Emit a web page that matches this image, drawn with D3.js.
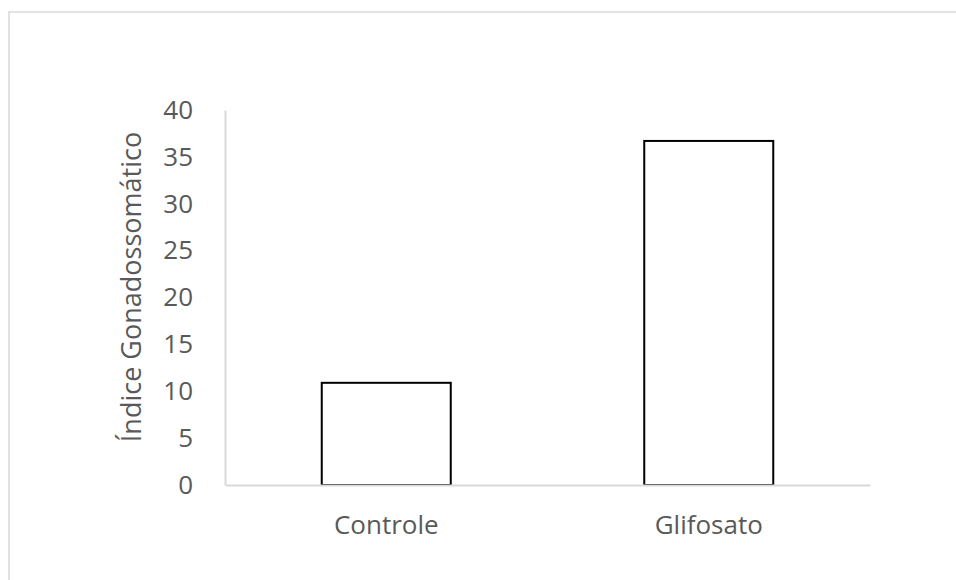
<!DOCTYPE html>
<html>
<head>
<meta charset="utf-8">
<script src="https://cdn.jsdelivr.net/npm/d3@7"></script>
<style>
  html, body { margin: 0; padding: 0; background: #fff; }
  svg { display: block; }
  text { font-family: "Open Sans", sans-serif; fill: #595959; }
</style>
</head>
<body>
<svg id="chart" width="956" height="580"></svg>
<script>
// Gonadosomatic index by treatment group
const categories = ["Controle", "Glifosato"];
const values = [10.9, 36.7];
const yTicks = [0, 5, 10, 15, 20, 25, 30, 35, 40];
const yTitle = "Índice Gonadossomático";

const svg = d3.select("#chart");

// Chart area frame
svg.append("rect")
  .attr("x", 9).attr("y", 12)
  .attr("width", 1000).attr("height", 700)
  .attr("fill", "#fff")
  .attr("stroke", "#d9d9d9")
  .attr("stroke-width", 1.5);

const plot = { left: 225, right: 870, top: 110, bottom: 485 };

const x = d3.scaleBand()
  .domain(categories)
  .range([plot.left, plot.right])
  .paddingInner(0.6)
  .paddingOuter(0.3);

const y = d3.scaleLinear()
  .domain([0, 40])
  .range([plot.bottom, plot.top]);

// Bars
svg.append("g").selectAll("rect")
  .data(categories)
  .join("rect")
  .attr("x", d => x(d))
  .attr("y", (d, i) => y(values[i]))
  .attr("width", x.bandwidth())
  .attr("height", (d, i) => y(0) - y(values[i]))
  .attr("fill", "#fff")
  .attr("stroke", "#000")
  .attr("stroke-width", 2);

// Y axis
const yAxis = svg.append("g")
  .attr("transform", `translate(${plot.left},0)`)
  .call(d3.axisLeft(y).tickValues(yTicks).tickSize(0).tickPadding(32));
yAxis.select(".domain").attr("stroke", "#d9d9d9").attr("stroke-width", 2);
yAxis.selectAll("text")
  .attr("font-size", 26)
  .attr("fill", "#595959")
  .attr("font-family", "Open Sans, sans-serif");

// X axis
const xAxis = svg.append("g")
  .attr("transform", `translate(0,${plot.bottom})`)
  .call(d3.axisBottom(x).tickSize(0).tickPadding(31));
xAxis.select(".domain").attr("stroke", "#d9d9d9").attr("stroke-width", 2);
xAxis.selectAll("text")
  .attr("font-size", 26)
  .attr("fill", "#595959")
  .attr("font-family", "Open Sans, sans-serif");

// Y axis title
svg.append("text")
  .attr("transform", "translate(141,287) rotate(-90)")
  .attr("text-anchor", "middle")
  .attr("font-size", 27)
  .text(yTitle);
</script>
</body>
</html>
